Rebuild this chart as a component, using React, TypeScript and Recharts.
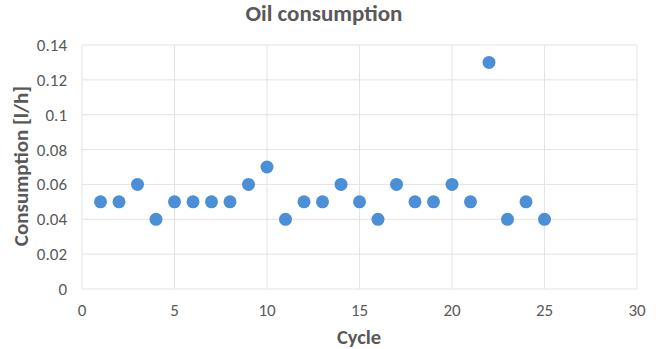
import React from "react";
import { ScatterChart, Scatter, XAxis, YAxis, CartesianGrid, ZAxis } from "recharts";

const cycles = [1, 2, 3, 4, 5, 6, 7, 8, 9, 10, 11, 12, 13, 14, 15, 16, 17, 18, 19, 20, 21, 22, 23, 24, 25];
const consumption = [0.05, 0.05, 0.06, 0.04, 0.05, 0.05, 0.05, 0.05, 0.06, 0.07, 0.04, 0.05, 0.05, 0.06, 0.05, 0.04, 0.06, 0.05, 0.05, 0.06, 0.05, 0.13, 0.04, 0.05, 0.04];
const xTicks = [0, 5, 10, 15, 20, 25, 30];
const yTicks = [0, 0.02, 0.04, 0.06, 0.08, 0.1, 0.12, 0.14];

const data = cycles.map((c, i) => ({ x: c, y: consumption[i] }));

const FONT = "Carlito, Calibri, 'Open Sans', 'Noto Sans', sans-serif";
const TEXT = "#595959";

const Dot = (props: any) => {
  const { cx, cy } = props;
  return <circle cx={cx} cy={cy} r={6.5} fill="#4a8fd8" />;
};

export default function App() {
  return (
    <div style={{ position: "absolute", left: 0, top: 0, width: 656, height: 349, background: "#fff" }}>
      <ScatterChart width={656} height={349} margin={{ top: 45, right: 19, bottom: 30, left: 30 }}>
        <text x={324} y={21} textAnchor="middle" fontFamily={FONT} fontSize={23} fontWeight={700} fill={TEXT}>
          Oil consumption
        </text>
        <text
          x={28}
          y={166}
          transform="rotate(-90, 28, 166)"
          textAnchor="middle"
          fontFamily={FONT}
          fontSize={21}
          fontWeight={700}
          fill={TEXT}
        >
          Consumption [l/h]
        </text>
        <text x={359} y={344} textAnchor="middle" fontFamily={FONT} fontSize={20.5} fontWeight={700} fill={TEXT}>
          Cycle
        </text>
        <CartesianGrid stroke="#e3e3e3" strokeWidth={1} />
        <XAxis
          type="number"
          dataKey="x"
          domain={[0, 30]}
          ticks={xTicks}
          axisLine={false}
          tickLine={false}
          height={30}
          tick={{ fill: TEXT, fontSize: 17, fontFamily: FONT }}
          tickMargin={9}
          interval={0}
        />
        <YAxis
          type="number"
          dataKey="y"
          domain={[0, 0.14]}
          ticks={yTicks}
          axisLine={false}
          tickLine={false}
          width={52}
          tick={{ fill: TEXT, fontSize: 17, fontFamily: FONT }}
          tickMargin={9}
          interval={0}
        />
        <ZAxis range={[130, 130]} />
        <Scatter data={data} shape={<Dot />} isAnimationActive={false} />
      </ScatterChart>
    </div>
  );
}
